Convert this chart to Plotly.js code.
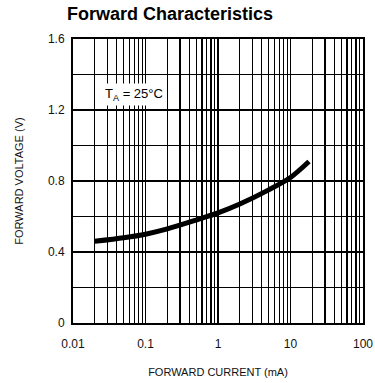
<!DOCTYPE html>
<html>
<head>
<meta charset="utf-8">
<script src="https://cdn.plot.ly/plotly-3.0.1.min.js"></script>
<style>
html,body{margin:0;padding:0;background:#fff;}
#chart{width:375px;height:383px;}
</style>
</head>
<body>
<div id="chart"></div>
<script>
// Data
const currentMA = [0.02, 0.05, 0.1, 0.2, 0.5, 1, 2, 5, 10, 18];
const forwardV  = [0.46, 0.48, 0.50, 0.53, 0.58, 0.62, 0.67, 0.75, 0.82, 0.91];

const xTickVals = [0.01, 0.1, 1, 10, 100];
const xTickText = ['0.01', '0.1', '1', '10', '100'];
const xMinorVals = [];
[0.01, 0.1, 1, 10].forEach(d => { for (let k = 2; k <= 9; k++) xMinorVals.push(+(d * k).toPrecision(3)); });
const yTickVals = [0, 0.4, 0.8, 1.2, 1.6];
const yTickText = ['0', '0.4', '0.8', '1.2', '1.6'];

const font = '"Liberation Sans", Arial, sans-serif';

const trace = {
  x: currentMA, y: forwardV, type: 'scatter', mode: 'lines',
  line: {color: '#000', width: 5, shape: 'spline', smoothing: 0.8},
  hoverinfo: 'skip'
};

const layout = {
  width: 375, height: 383,
  margin: {l: 73, r: 12, t: 39, b: 60},
  paper_bgcolor: '#fff', plot_bgcolor: '#fff',
  showlegend: false,
  title: {
    text: '<b>Forward Characteristics</b>',
    font: {family: font, size: 18, color: '#000'},
    x: 67 / 375, xanchor: 'left', y: 0.965, yanchor: 'middle'
  },
  xaxis: {
    type: 'log', range: [-2, 2],
    tickvals: xTickVals, ticktext: xTickText, ticks: '',
    showgrid: true, gridcolor: '#000', gridwidth: 1.3,
    minor: {tickvals: xMinorVals, showgrid: true, gridcolor: '#000', gridwidth: 1.2, ticks: ''},
    showline: true, linecolor: '#000', linewidth: 2, mirror: true,
    zeroline: false,
    tickfont: {family: font, size: 12, color: '#111'},
    ticklabelstandoff: 9,
    title: {text: 'FORWARD CURRENT (mA)', font: {family: font, size: 11, color: '#111'}, standoff: 18},
    fixedrange: true
  },
  yaxis: {
    range: [0, 1.6],
    tickvals: yTickVals, ticktext: yTickText, ticks: '',
    showgrid: true, gridcolor: '#000', gridwidth: 1.3,
    minor: {dtick: 0.2, showgrid: true, gridcolor: '#000', gridwidth: 1.3, ticks: ''},
    showline: true, linecolor: '#000', linewidth: 2, mirror: true,
    zeroline: false,
    tickfont: {family: font, size: 12, color: '#111'},
    ticklabelstandoff: 4,
    title: {text: 'FORWARD VOLTAGE (V)', font: {family: font, size: 11, color: '#111'}, standoff: 22},
    fixedrange: true
  },
  annotations: [{
    x: Math.log10(0.025), y: 1.29, xref: 'x', yref: 'y',
    xanchor: 'left', yanchor: 'middle', showarrow: false,
    text: 'T<sub>A</sub> = 25°C',
    font: {family: font, size: 13, color: '#000'},
    bgcolor: '#fff', borderpad: 2
  }]
};

Plotly.newPlot('chart', [trace], layout, {displayModeBar: false, staticPlot: true});
</script>
</body>
</html>
